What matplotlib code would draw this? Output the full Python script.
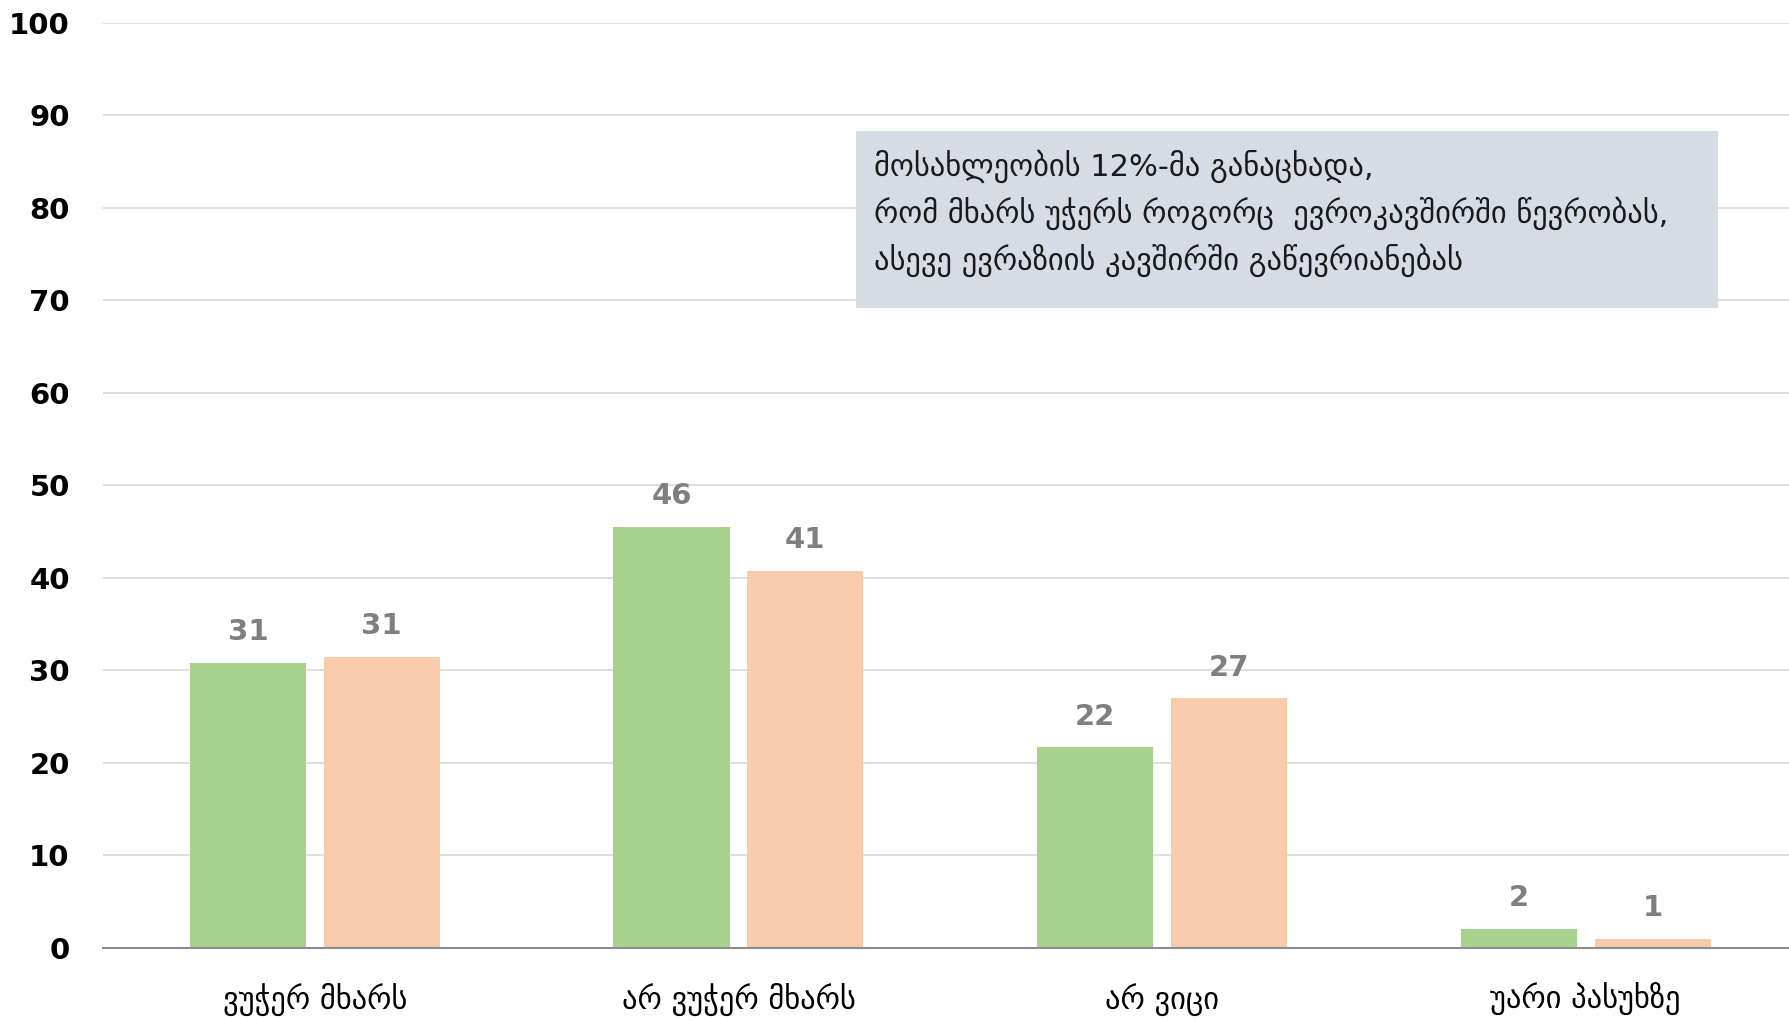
import numpy as np
import matplotlib.pyplot as plt
from matplotlib.patches import Rectangle

categories = ['ვუჭერ მხარს', 'არ ვუჭერ მხარს', 'არ ვიცი', 'უარი პასუხზე']
series_a = [30.8, 45.5, 21.7, 2.1]
series_b = [31.5, 40.8, 27.0, 1.0]
labels_a = ['31', '46', '22', '2']
labels_b = ['31', '41', '27', '1']
yticks = [0, 10, 20, 30, 40, 50, 60, 70, 80, 90, 100]
note = ('მოსახლეობის 12%-მა განაცხადა,\n'
        'რომ მხარს უჭერს როგორც  ევროკავშირში წევრობას,\n'
        'ასევე ევრაზიის კავშირში გაწევრიანებას')

green = '#A9D18E'
orange = '#F8CBAD'

fig = plt.figure(figsize=(17.89, 10.21), dpi=100)
ax = fig.add_axes([0.0576, 0.0715, 0.9424, 0.906])

x = np.arange(len(categories))
w = 0.274
off = 0.158
bars_a = ax.bar(x - off, series_a, w, color=green, zorder=2)
bars_b = ax.bar(x + off, series_b, w, color=orange, zorder=2)

for bars, labs in ((bars_a, labels_a), (bars_b, labels_b)):
    for b, t in zip(bars, labs):
        ax.annotate(t, (b.get_x() + b.get_width() / 2, b.get_height()),
                    xytext=(0, 12), textcoords='offset points',
                    ha='center', va='bottom', fontsize=21, fontweight='bold',
                    color='#7F7F7F')

ax.set_xlim(-0.5, 3.48)
ax.set_ylim(0, 100)
ax.set_yticks(yticks)
ax.set_yticklabels([str(v) for v in yticks], fontsize=21, fontweight='bold')
ax.set_xticks(x)
ax.set_xticklabels(categories, fontsize=22)
ax.tick_params(axis='y', length=0, pad=24)
ax.tick_params(axis='x', length=0, pad=25)
ax.grid(axis='y', color='#D9D9D9', linewidth=1.2, zorder=0)
for s in ['top', 'right', 'left']:
    ax.spines[s].set_visible(False)
ax.spines['bottom'].set_color('#8C8C8C')
ax.spines['bottom'].set_linewidth(1.5)
ax.spines['bottom'].set_zorder(3)

fig.patches.append(Rectangle((0.4785, 0.6983), 0.4818, 0.1734,
                             transform=fig.transFigure, facecolor='#D6DCE5',
                             edgecolor='none', zorder=5))
fig.text(0.4885, 0.853, note, fontsize=22, va='top', ha='left',
         color='#1A1A1A', linespacing=1.5, zorder=6)

fig.savefig('out.png', dpi=100)
